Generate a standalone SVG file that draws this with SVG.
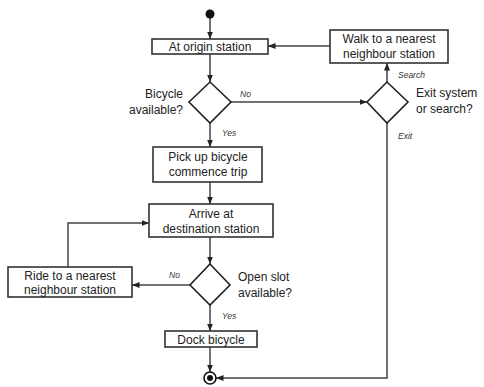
<svg xmlns="http://www.w3.org/2000/svg" width="484" height="387" viewBox="0 0 484 387">
<style>
.box{fill:#fff;stroke:#333;stroke-width:1.6}
.dia{fill:#fff;stroke:#222;stroke-width:1.6}
.t{font-family:"Liberation Sans",Arial,sans-serif;font-size:12px;fill:#222;text-anchor:middle}
.q{font-family:"Liberation Sans",Arial,sans-serif;font-size:12px;fill:#222}
.l{font-family:"Liberation Sans",Arial,sans-serif;font-size:8.5px;font-style:italic;fill:#333}
.c{fill:none;stroke:#444;stroke-width:1.5}
</style>
<defs>
<marker id="a" viewBox="0 0 10 10" refX="10" refY="5" markerWidth="5" markerHeight="5" orient="auto"><path d="M0,1 L10,5 L0,9 z" fill="#222"/></marker>
</defs>
<rect width="484" height="387" fill="#fff"/>
<g id="connectors">
<path class="c" d="M210,18 V39" marker-end="url(#a)"/>
<path class="c" d="M210,54 V82" marker-end="url(#a)"/>
<path class="c" d="M231,102 H367" marker-end="url(#a)"/>
<path class="c" d="M387,82 V63" marker-end="url(#a)"/>
<path class="c" d="M330,46 H268" marker-end="url(#a)"/>
<path class="c" d="M387,123 V378 H216" marker-end="url(#a)"/>
<path class="c" d="M210,123 V147" marker-end="url(#a)"/>
<path class="c" d="M210,182 V204" marker-end="url(#a)"/>
<path class="c" d="M210,237 V264" marker-end="url(#a)"/>
<path class="c" d="M190,285 H132" marker-end="url(#a)"/>
<path class="c" d="M68,267 V223 H149" marker-end="url(#a)"/>
<path class="c" d="M210,305 V331" marker-end="url(#a)"/>
<path class="c" d="M210,347 V372" marker-end="url(#a)"/>
<text class="l" x="240" y="97">No</text>
<text class="l" x="398" y="78">Search</text>
<text class="l" x="398" y="139">Exit</text>
<text class="l" x="222" y="136">Yes</text>
<text class="l" x="169" y="278">No</text>
<text class="l" x="222" y="319">Yes</text>
</g>
<g id="start"><circle cx="210" cy="14" r="4.5" fill="#111"/></g>
<g id="origin"><rect class="box" x="152" y="39" width="116" height="15"/><text class="t" x="210" y="51">At origin station</text></g>
<g id="walk"><rect class="box" x="330" y="30" width="118" height="33"/><text class="t" x="389" y="43">Walk to a nearest</text><text class="t" x="389" y="58">neighbour station</text></g>
<g id="bike-available"><path class="dia" d="M210,82 L231,102 L210,123 L189,102 Z"/><text class="q" x="183" y="98" text-anchor="end">Bicycle</text><text class="q" x="183" y="114" text-anchor="end">available?</text></g>
<g id="exit-search"><path class="dia" d="M387,82 L408,102 L387,123 L367,102 Z"/><text class="q" x="416" y="97">Exit system</text><text class="q" x="416" y="113">or search?</text></g>
<g id="pickup"><rect class="box" x="153" y="147" width="109" height="35"/><text class="t" x="208" y="161">Pick up bicycle</text><text class="t" x="208" y="176">commence trip</text></g>
<g id="arrive"><rect class="box" x="149" y="204" width="124" height="33"/><text class="t" x="211" y="218">Arrive at</text><text class="t" x="211" y="233">destination station</text></g>
<g id="open-slot"><path class="dia" d="M210,264 L230,285 L210,305 L190,285 Z"/><text class="q" x="238" y="281">Open slot</text><text class="q" x="238" y="297">available?</text></g>
<g id="ride"><rect class="box" x="8" y="267" width="124" height="30"/><text class="t" x="70" y="280">Ride to a nearest</text><text class="t" x="70" y="294">neighbour station</text></g>
<g id="dock"><rect class="box" x="165" y="331" width="92" height="16"/><text class="t" x="211" y="344">Dock bicycle</text></g>
<g id="end"><circle cx="210" cy="378" r="6" fill="#fff" stroke="#111" stroke-width="1.6"/><circle cx="210" cy="378" r="3" fill="#111"/></g>
</svg>
